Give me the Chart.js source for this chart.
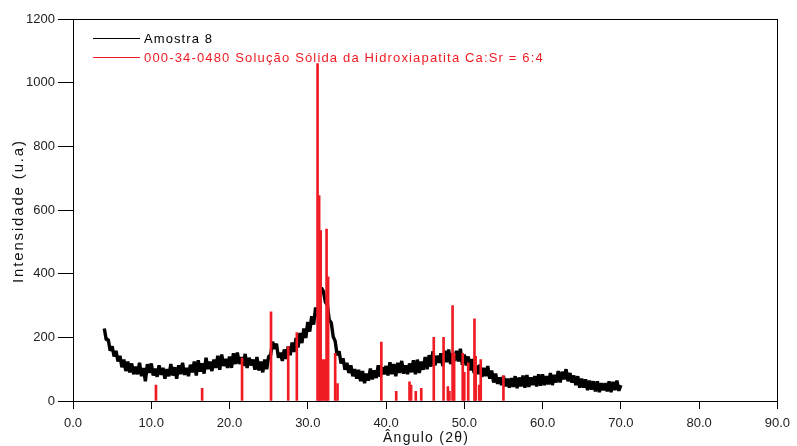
<!DOCTYPE html>
<html>
<head>
<meta charset="utf-8">
<script src="https://cdn.jsdelivr.net/npm/chart.js@4/dist/chart.umd.min.js"></script>
<style>
  html, body { margin: 0; padding: 0; background: #fff; }
  #wrap { width: 797px; height: 446px; position: relative; }
</style>
</head>
<body>
<div id="wrap"><canvas id="xrd"></canvas></div>
<script>
// ── Data ──────────────────────────────────────────────────────────────────────
// Amostra 8: scan from 4.0 to 70.0 deg (2θ), 0.25 deg step
const SCAN_START = 4.0;
const SCAN_STEP  = 0.25;
const amostra8 = [
  228,192,194,158,  172,140,158,124,  142,106,130, 94,  124, 90,118, 84,
  108, 84,120, 78,  104, 62,116, 88,  118, 80,102, 76,  112, 82,104, 70,
  100, 78,116, 80,  106, 70,112, 84,  120, 82,104, 78,  114, 90,124, 80,
  128, 92,118, 86,  136,100,124, 94,  130,104,142, 98,  146,110,132,104,
  140,104,150,116,  152,116,138,110,  148,104,136,112,  130, 98,138, 96,
  124, 90,130,100,  140,144,186,164,  180,136,152,126,  162,132,172,144,
  184,154,198,168,  214,182,228,198,  248,218,266,240,  294,266,326,356,
  344,310,302,254,  246,202,188,144,  156,118,134, 98,  120, 88,112, 78,
  100, 70, 98, 62,   94, 56, 86, 64,  102, 68, 96, 72,  112, 76,106, 84,
  110, 80,122, 84,  116, 78,120, 88,  126, 86,112, 84,  118, 90,128, 84,
  130, 88,124, 98,  138,100,144,108,  156,112,142,120,  150,110,158,122,
  162,116,150,126,  158,124,164,114,  146,112,140, 96,  132, 88,112, 84,
  114, 76,104, 78,  110, 70, 96, 58,   86, 54, 74, 50,   78, 46, 70, 42,
   72, 44, 78, 40,   74, 46, 80, 42,   82, 44, 74, 50,   78, 46, 84, 48,
   84, 50, 78, 52,   88, 50, 82, 58,   94, 58, 92, 68,  100, 62, 88, 58,
   80, 50, 78, 42,   70, 42, 68, 34,   64, 36, 62, 30,   62, 28, 56, 34,
   56, 30, 62, 28,   60, 34, 64, 32,   50
];

// 000-34-0480 reference pattern (stick lines)
const refAngles  = [10.6, 16.5, 21.6, 25.3, 27.5, 28.6, 31.25, 31.45, 31.65, 31.9, 32.2, 32.4, 32.6, 33.5, 33.8,
                    39.4, 41.3, 43.0, 43.2, 43.8, 44.5, 46.1, 47.35, 47.9, 48.1, 48.5, 48.7, 49.8, 50.0, 50.5,
                    51.3, 51.45, 51.9, 52.1, 55.0];
const refHeights = [50, 40, 135, 280, 172, 215, 1060, 645, 535, 130, 130, 540, 390, 150, 55,
                    185, 30, 60, 50, 30, 40, 200, 200, 45, 30, 300, 150, 150, 90, 120,
                    258, 140, 50, 130, 80];

const xTicks = [0, 10, 20, 30, 40, 50, 60, 70, 80, 90];
const yTicks = [0, 200, 400, 600, 800, 1000, 1200];

const SERIES_NAMES = ['Amostra 8', '000-34-0480 Solução Sólida da Hidroxiapatita Ca:Sr = 6:4'];
const SERIES_COLORS = ['#000000', '#f01c24'];

// ── Helpers ───────────────────────────────────────────────────────────────────
const FONT = '"Liberation Sans", Arial, sans-serif';

function fitText(ctx, text, x, y, width) {
  ctx.letterSpacing = '0px';
  const w = ctx.measureText(text).width;
  const sp = text.length > 1 ? (width - w) / (text.length - 1) : 0;
  ctx.letterSpacing = sp.toFixed(2) + 'px';
  ctx.fillText(text, x, y);
  ctx.letterSpacing = '0px';
}

const frameAndLabels = {
  id: 'frameAndLabels',
  afterDraw(chart) {
    const { ctx, chartArea: a } = chart;
    ctx.save();
    ctx.strokeStyle = '#000';
    ctx.lineWidth = 1;
    ctx.strokeRect(Math.round(a.left) + 0.5, Math.round(a.top) + 0.5,
                   Math.round(a.right - a.left), Math.round(a.bottom - a.top));

    // legend
    const lx0 = 93, lx1 = 140, tx = 144;
    const rows = [38, 57];
    ctx.textBaseline = 'middle';
    ctx.textAlign = 'left';
    rows.forEach((ly, i) => {
      ctx.strokeStyle = SERIES_COLORS[i];
      ctx.lineWidth = 1.2;
      ctx.beginPath();
      ctx.moveTo(lx0, ly + 0.5);
      ctx.lineTo(lx1, ly + 0.5);
      ctx.stroke();
      ctx.fillStyle = SERIES_COLORS[i];
      ctx.font = '13px ' + FONT;
      fitText(ctx, SERIES_NAMES[i], tx, ly + 1, i === 0 ? 68 : 399);
    });

    // axis titles
    ctx.fillStyle = '#111';
    ctx.font = '14px ' + FONT;
    ctx.textAlign = 'left';
    fitText(ctx, 'Ângulo (2θ)', 383, 438, 85);
    ctx.save();
    ctx.translate(19, 283);
    ctx.rotate(-Math.PI / 2);
    ctx.font = '15px ' + FONT;
    fitText(ctx, 'Intensidade (u.a)', 0, 0, 142);
    ctx.restore();
    ctx.restore();
  }
};

// ── Chart ─────────────────────────────────────────────────────────────────────
const scanPoints = amostra8.map((v, i) => ({ x: SCAN_START + i * SCAN_STEP, y: v }));
const stickPoints = refAngles.map((a, i) => ({ x: a, y: refHeights[i] }));

new Chart(document.getElementById('xrd').getContext('2d'), {
  type: 'line',
  data: {
    datasets: [
      {
        type: 'bar', label: SERIES_NAMES[1], data: stickPoints,
        backgroundColor: SERIES_COLORS[1], borderWidth: 0,
        barThickness: 2, grouped: false, order: 0
      },
      {
        type: 'line', label: SERIES_NAMES[0], data: scanPoints,
        borderColor: SERIES_COLORS[0], borderWidth: 3.4,
        borderJoinStyle: 'bevel',
        pointRadius: 0, tension: 0, fill: false, order: 1
      }
    ]
  },
  options: {
    responsive: true, maintainAspectRatio: false, animation: false,
    layout: { padding: { top: 19, right: 17, left: 0, bottom: 0 } },
    plugins: { legend: { display: false }, tooltip: { enabled: false } },
    scales: {
      x: {
        type: 'linear', min: 0, max: 90, offset: false,
        afterBuildTicks: s => { s.ticks = xTicks.map(v => ({ value: v })); },
        afterFit: s => { s.height = 45; },
        grid: { offset: false, drawOnChartArea: false, drawTicks: true, tickLength: 8, color: '#000' },
        border: { display: true, color: '#000', width: 1 },
        ticks: { color: '#222', font: { family: FONT, size: 13 }, padding: 7,
                 maxRotation: 0, callback: v => Number(v).toFixed(1) }
      },
      y: {
        min: 0, max: 1200,
        afterBuildTicks: s => { s.ticks = yTicks.map(v => ({ value: v })); },
        afterFit: s => { s.width = 73; },
        grid: { drawOnChartArea: false, drawTicks: true, tickLength: 15, color: '#000' },
        border: { display: true, color: '#000', width: 1 },
        ticks: { color: '#222', font: { family: FONT, size: 13 }, padding: 3,
                 callback: v => String(v) }
      }
    }
  },
  plugins: [frameAndLabels]
});
</script>
</body>
</html>
